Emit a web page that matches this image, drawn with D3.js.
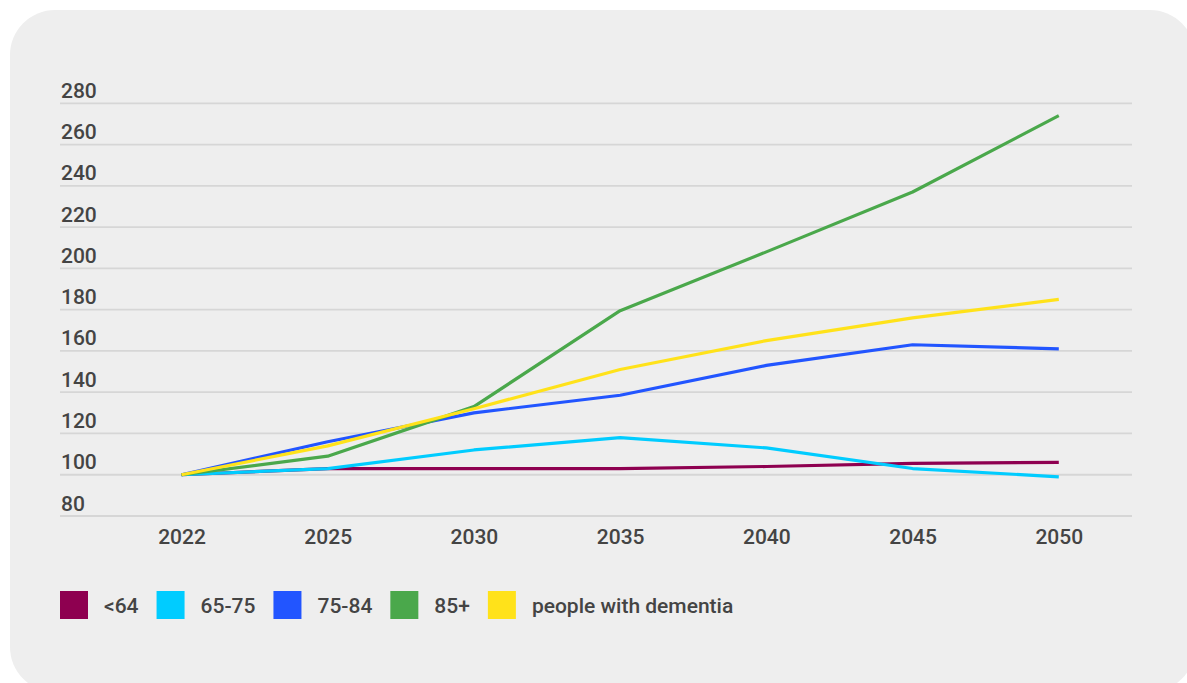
<!DOCTYPE html>
<html>
<head>
<meta charset="utf-8">
<script src="https://cdn.jsdelivr.net/npm/d3@7"></script>
<style>
  html, body { margin: 0; padding: 0; background: #ffffff; }
  svg { display: block; }
  text { font-family: Roboto, "Noto Sans", sans-serif; fill: #444444; font-weight: 500; }
</style>
</head>
<body>
<svg id="chart" width="1187" height="683"></svg>
<script>
const years = ["2022", "2025", "2030", "2035", "2040", "2045", "2050"];
const yTicks = [80, 100, 120, 140, 160, 180, 200, 220, 240, 260, 280];

const seriesNames = ["<64", "65-75", "75-84", "85+", "people with dementia"];
const seriesColors = ["#8e0050", "#00ccff", "#2255ff", "#4aa84b", "#ffe21a"];

const under64   = [100, 103, 103, 103, 104, 105.5, 106];
const age65to75 = [100, 103, 112, 118, 113, 103, 99];
const age75to84 = [100, 116, 130, 138.5, 153, 163, 161];
const age85plus = [100, 109, 133, 179.5, 208, 237, 274];
const dementia  = [100, 114, 132, 151, 165, 176, 185];

const seriesValues = [under64, age65to75, age75to84, age85plus, dementia];

const svg = d3.select("#chart");

// card background
svg.append("rect")
  .attr("x", 10).attr("y", 10)
  .attr("width", 1185).attr("height", 682)
  .attr("rx", 45).attr("ry", 45)
  .attr("fill", "#eeeeee");

const x = d3.scalePoint().domain(years).range([181.5, 1058.8]);
const y = d3.scaleLinear().domain([80, 280]).range([516, 103.3]);

const gridLeft = 60, gridRight = 1132;

// gridlines
const grid = svg.append("g");
grid.selectAll("line")
  .data(yTicks)
  .join("line")
  .attr("x1", gridLeft).attr("x2", gridRight)
  .attr("y1", d => y(d)).attr("y2", d => y(d))
  .attr("stroke", "#d6d6d6")
  .attr("stroke-width", 1.8);

// y labels (left aligned above gridline)
const yAxis = d3.axisLeft(y).tickValues(yTicks).tickSize(0);
const yG = svg.append("g").attr("transform", `translate(${gridLeft},0)`).call(yAxis);
yG.select(".domain").remove();
yG.selectAll("text")
  .attr("x", 1)
  .attr("dy", "-6")
  .attr("text-anchor", "start")
  .style("font-size", "21px")
  .style("font-weight", "500")
  .style("fill", "#444444")
  .style("font-family", "Roboto, 'Noto Sans', sans-serif");

// x labels
const xAxis = d3.axisBottom(x).tickSize(0);
const xG = svg.append("g").attr("transform", "translate(0,516)").call(xAxis);
xG.select(".domain").remove();
xG.selectAll("text")
  .attr("y", 28)
  .attr("dy", 0)
  .style("font-size", "21px")
  .style("font-weight", "500")
  .style("fill", "#444444")
  .style("font-family", "Roboto, 'Noto Sans', sans-serif");

// lines
const line = d3.line()
  .x((d, i) => x(years[i]))
  .y(d => y(d));

svg.append("g").selectAll("path")
  .data(seriesValues)
  .join("path")
  .attr("d", d => line(d))
  .attr("fill", "none")
  .attr("stroke", (d, i) => seriesColors[i])
  .attr("stroke-width", 3.2)
  .attr("stroke-linejoin", "round");

// legend
const legend = svg.append("g");
let lx = 60;
seriesNames.forEach((name, i) => {
  legend.append("rect")
    .attr("x", lx).attr("y", 591)
    .attr("width", 28).attr("height", 28)
    .attr("fill", seriesColors[i]);
  const t = legend.append("text")
    .attr("x", lx + 44).attr("y", 612.5)
    .style("font-size", "21px")
    .text(name);
  const w = t.node().getComputedTextLength();
  lx = lx + 44 + w + 18;
});
</script>
</body>
</html>
